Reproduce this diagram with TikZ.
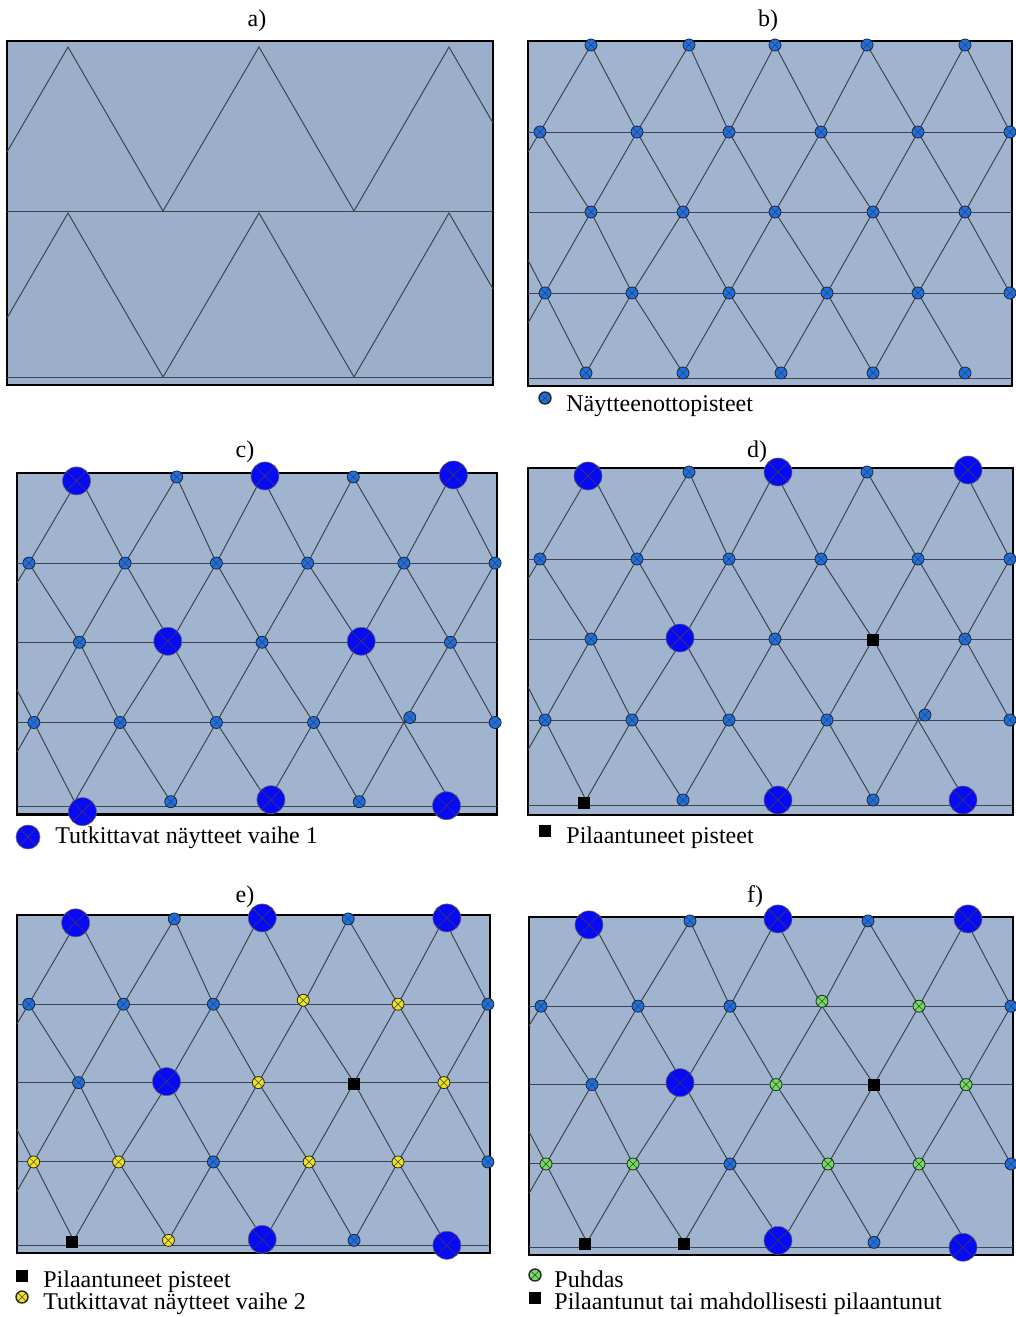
\documentclass[tikz,border=0pt]{standalone}
\usepackage{fontspec}
\setmainfont{Liberation Serif}
\usetikzlibrary{calc}

\definecolor{panelfill}{RGB}{161,180,207}
\definecolor{panelfilla}{RGB}{155,175,202}
\definecolor{gridgray}{RGB}{62,68,78}
\definecolor{smpblue}{RGB}{25,112,235}
\definecolor{phaseblue}{RGB}{8,10,245}
\definecolor{phaseyellow}{RGB}{238,226,30}
\definecolor{cleangreen}{RGB}{110,222,95}

\tikzset{
  panel/.style={draw=black, line width=1.2pt, fill=panelfill},
  latline/.style={draw=gridgray, line width=0.5pt},
  xmark/.style={path picture={\draw[black!75, line width=0.25pt]
      (path picture bounding box.north west) -- (path picture bounding box.south east)
      (path picture bounding box.north east) -- (path picture bounding box.south west);}},
  smpl/.style={circle, xmark, draw=black!85, line width=0.4pt, fill=smpblue, inner sep=0pt, minimum size=6pt},
  stage1/.style={circle, xmark, draw=black!60, line width=0.3pt, fill=phaseblue, inner sep=0pt, minimum size=14pt},
  stage2/.style={smpl, fill=phaseyellow},
  clean/.style={smpl, fill=cleangreen},
  polluted/.style={rectangle, fill=black, inner sep=0pt, minimum size=6pt},
  lbl/.style={font=\fontsize{12}{14}\selectfont, inner sep=0pt},
}

% triangular sampling grid, coordinates relative to the panel corner
\newcommand{\lattice}[2]{%
  \filldraw[panel] (0,0) rectangle #2;
  \foreach \x [count=\i] in {63,161,247,339,437} \coordinate (#1-1-\i) at (\x,4);
  \foreach \x [count=\i] in {12,109,201,293,390,482} \coordinate (#1-2-\i) at (\x,91);
  \foreach \x [count=\i] in {63,155,247,345,437} \coordinate (#1-3-\i) at (\x,171);
  \foreach \x [count=\i] in {17,104,201,299,390,482} \coordinate (#1-4-\i) at (\x,252);
  \foreach \x [count=\i] in {58,155,253,345,437} \coordinate (#1-5-\i) at (\x,332);
  \foreach \y in {91,171,252,337} \draw[latline] (0,\y) -- (484,\y);
  \foreach \i [evaluate=\i as \j using int(\i+1)] in {1,...,5} {
    \draw[latline] (#1-2-\i) -- (#1-1-\i) -- (#1-2-\j);
    \draw[latline] (#1-2-\i) -- (#1-3-\i) -- (#1-2-\j);
    \draw[latline] (#1-4-\i) -- (#1-3-\i) -- (#1-4-\j);
  }
  \foreach \i [evaluate=\i as \j using int(\i+1)] in {1,...,4}
    \draw[latline] (#1-4-\i) -- (#1-5-\i) -- (#1-4-\j);
  \draw[latline] (#1-4-5) -- (#1-5-5);
  \draw[latline] (#1-2-1) -- (0,111);
  \draw[latline] (0,219) -- (#1-4-1) -- (0,282);
}

\begin{document}
\begin{tikzpicture}[x=0.5pt, y=-0.5pt]
  \useasboundingbox (0,0) rectangle (1016,1317);

  % a) zigzag rows
  \node[lbl, anchor=base] (lab-a) at (257,26) {a)};
  \filldraw[panel, fill=panelfilla] (7,41) rectangle (493,385);
  \draw[latline] (7,211) -- (493,211);
  \draw[latline] (7,377) -- (493,377);
  \draw[latline] (7,152) -- (68,47) -- (163,211) -- (259,47) -- (354,211) -- (449,47) -- (493,123);
  \draw[latline] (7,318) -- (68,213) -- (163,377) -- (259,213) -- (354,377) -- (449,213) -- (493,289);

  % b) sampling points
  \node[lbl, anchor=base] (lab-b) at (768,26) {b)};
  \begin{scope}[shift={(528,41)}]
    \lattice{b}{(484,345)}
    \foreach \r/\n in {1/5,2/6,3/5,4/6,5/5}
      \foreach \i in {1,...,\n}
        \node[smpl] (b-p-\r-\i) at (b-\r-\i) {};
  \end{scope}
  \node[smpl, line width=0.7pt] (b-key) at (545,398) {};
  \node[lbl, anchor=base west] (b-keytext) at (566,411) {Näytteenottopisteet};

  % c) phase 1
  \node[lbl, anchor=base] (lab-c) at (245,457) {c)};
  \begin{scope}[shift={(17,473)}, xscale=0.992, yscale=0.99]
    \lattice{c}{(484,345)}
    \foreach \r/\i/\s/\dx/\dy in {
        1/1/stage1/-3/4, 1/2/smpl/0/0, 1/3/stage1/3/-1, 1/4/smpl/0/0, 1/5/stage1/3/-2,
        2/1/smpl/0/0, 2/2/smpl/0/0, 2/3/smpl/0/0, 2/4/smpl/0/0, 2/5/smpl/0/0, 2/6/smpl/0/0,
        3/1/smpl/0/0, 3/2/stage1/-3/-1, 3/3/smpl/0/0, 3/4/stage1/2/-1, 3/5/smpl/0/0,
        4/1/smpl/0/0, 4/2/smpl/0/0, 4/3/smpl/0/0, 4/4/smpl/0/0, 4/5/smpl/6/-5, 4/6/smpl/0/0,
        5/1/stage1/8/10, 5/2/smpl/0/0, 5/3/stage1/3/-2, 5/4/smpl/0/0, 5/5/stage1/-4/4}
      \node[\s] (c-p-\r-\i) at ($(c-\r-\i)+(\dx,\dy)$) {};
  \end{scope}
  \node[stage1, minimum size=12pt] (c-key) at (28,837) {};
  \node[lbl, anchor=base west] (c-keytext) at (55,843) {Tutkittavat näytteet vaihe 1};

  % d) polluted points
  \node[lbl, anchor=base] (lab-d) at (757,457) {d)};
  \begin{scope}[shift={(528,468)}]
    \lattice{d}{(485,347)}
    \foreach \r/\i/\s/\dx/\dy in {
        1/1/stage1/-3/4, 1/2/smpl/0/0, 1/3/stage1/3/0, 1/4/smpl/0/0, 1/5/stage1/3/-2,
        2/1/smpl/0/0, 2/2/smpl/0/0, 2/3/smpl/0/0, 2/4/smpl/0/0, 2/5/smpl/0/0, 2/6/smpl/0/0,
        3/1/smpl/0/0, 3/2/stage1/-3/-1, 3/3/smpl/0/0, 3/4/polluted/0/1, 3/5/smpl/0/0,
        4/1/smpl/0/0, 4/2/smpl/0/0, 4/3/smpl/0/0, 4/4/smpl/0/0, 4/5/smpl/7/-5, 4/6/smpl/0/0,
        5/1/polluted/-2/3, 5/2/smpl/0/0, 5/3/stage1/-3/0, 5/4/smpl/0/0, 5/5/stage1/-2/0}
      \node[\s] (d-p-\r-\i) at ($(d-\r-\i)+(\dx,\dy)$) {};
  \end{scope}
  \node[polluted] (d-key) at (545,831) {};
  \node[lbl, anchor=base west] (d-keytext) at (566,843) {Pilaantuneet pisteet};

  % e) phase 2
  \node[lbl, anchor=base] (lab-e) at (245,902) {e)};
  \begin{scope}[shift={(17,915)}, xscale=0.977, yscale=0.98]
    \lattice{e}{(484,345)}
    \foreach \r/\i/\s/\dx/\dy in {
        1/1/stage1/-3/4, 1/2/smpl/0/0, 1/3/stage1/4/-1, 1/4/smpl/0/0, 1/5/stage1/3/-1,
        2/1/smpl/0/0, 2/2/smpl/0/0, 2/3/smpl/0/0, 2/4/stage2/0/-4, 2/5/stage2/0/0, 2/6/smpl/0/0,
        3/1/smpl/0/0, 3/2/stage1/-2/-1, 3/3/stage2/0/0, 3/4/polluted/0/1, 3/5/stage2/0/0,
        4/1/stage2/0/0, 4/2/stage2/0/0, 4/3/smpl/0/0, 4/4/stage2/0/0, 4/5/stage2/0/0, 4/6/smpl/0/0,
        5/1/polluted/-2/2, 5/2/stage2/0/0, 5/3/stage1/-2/-1, 5/4/smpl/0/0, 5/5/stage1/3/5}
      \node[\s] (e-p-\r-\i) at ($(e-\r-\i)+(\dx,\dy)$) {};
  \end{scope}
  \node[polluted] (e-key1) at (22,1276) {};
  \node[lbl, anchor=base west] (e-keytext1) at (43,1287) {Pilaantuneet pisteet};
  \node[stage2, line width=0.7pt] (e-key2) at (22,1297) {};
  \node[lbl, anchor=base west] (e-keytext2) at (43,1309) {Tutkittavat näytteet vaihe 2};

  % f) results
  \node[lbl, anchor=base] (lab-f) at (755,902) {f)};
  \begin{scope}[shift={(529,917)}, yscale=0.98]
    \lattice{f}{(484,345)}
    \foreach \r/\i/\s/\dx/\dy in {
        1/1/stage1/-3/4, 1/2/smpl/0/0, 1/3/stage1/2/-2, 1/4/smpl/0/0, 1/5/stage1/2/-2,
        2/1/smpl/0/0, 2/2/smpl/0/0, 2/3/smpl/0/0, 2/4/clean/0/-5, 2/5/clean/0/0, 2/6/smpl/0/0,
        3/1/smpl/0/0, 3/2/stage1/-4/-2, 3/3/clean/0/0, 3/4/polluted/0/0, 3/5/clean/0/0,
        4/1/clean/0/0, 4/2/clean/0/0, 4/3/smpl/0/0, 4/4/clean/0/0, 4/5/clean/0/0, 4/6/smpl/0/0,
        5/1/polluted/-2/2, 5/2/polluted/0/2, 5/3/stage1/-4/-2, 5/4/smpl/0/0, 5/5/stage1/-3/5}
      \node[\s] (f-p-\r-\i) at ($(f-\r-\i)+(\dx,\dy)$) {};
  \end{scope}
  \node[clean, line width=0.7pt] (f-key1) at (535,1275) {};
  \node[lbl, anchor=base west] (f-keytext1) at (554,1287) {Puhdas};
  \node[polluted] (f-key2) at (535,1298) {};
  \node[lbl, anchor=base west] (f-keytext2) at (554,1309) {Pilaantunut tai mahdollisesti pilaantunut};
\end{tikzpicture}
\end{document}
